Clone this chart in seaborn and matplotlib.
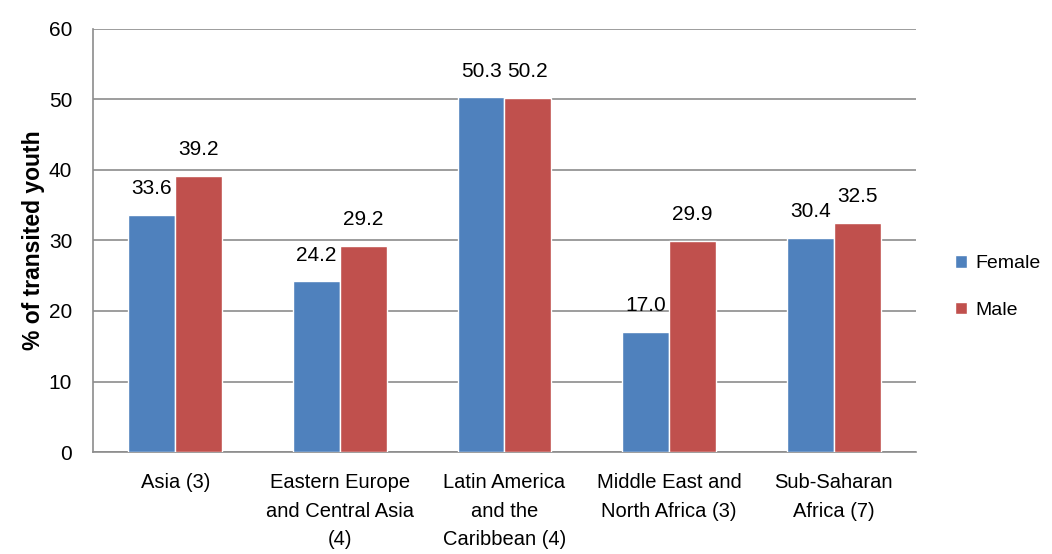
import pandas as pd
import matplotlib.pyplot as plt
import seaborn as sns

# Donnees
regions = ['Asia (3)', 'Eastern Europe\nand Central Asia\n(4)', 'Latin America\nand the\nCaribbean (4)',
           'Middle East and\nNorth Africa (3)', 'Sub-Saharan\nAfrica (7)']
female = [33.6, 24.2, 50.3, 17.0, 30.4]
male = [39.2, 29.2, 50.2, 29.9, 32.5]
sexes = ['Female', 'Male']
colors = ['#4F81BD', '#C0504D']

df = pd.DataFrame({
    'region': regions * 2,
    'sexe': ['Female'] * len(regions) + ['Male'] * len(regions),
    'valeur': female + male,
})

sns.set_style('white')
plt.rcParams['font.family'] = ['Liberation Sans', 'DejaVu Sans']
plt.rcParams['text.color'] = 'black'
plt.rcParams['axes.labelcolor'] = 'black'
plt.rcParams['xtick.color'] = 'black'
plt.rcParams['ytick.color'] = 'black'

fig = plt.figure(figsize=(10.52, 5.54), dpi=100)
ax = fig.add_axes([0.0884, 0.184, 0.7823, 0.764])

sns.barplot(data=df, x='region', y='valeur', hue='sexe', hue_order=sexes,
            palette=colors, width=0.57, gap=0, edgecolor='white', linewidth=1,
            saturation=1, ax=ax, zorder=3)

for cont in ax.containers:
    ax.bar_label(cont, fmt='%.1f', padding=12, fontsize=15)

ax.set_ylim(0, 60)
ax.set_xlim(-0.5, len(regions) - 0.5)
ax.set_yticks(range(0, 61, 10))
ax.yaxis.grid(True, color='#8c8c8c', linewidth=1.2, zorder=0)
ax.xaxis.grid(False)
ax.set_axisbelow(True)

ax.set_xticks(range(len(regions)))
ax.set_xticklabels(regions, fontsize=14.5, linespacing=1.65)
ax.set_xticks([i - 0.5 for i in range(len(regions) + 1)], minor=True)
ax.tick_params(axis='x', which='major', length=0, pad=15)
ax.tick_params(axis='x', which='minor', length=7, width=1.2, color='#8c8c8c', direction='out')
ax.tick_params(axis='y', length=7, width=1.2, color='#8c8c8c', direction='out', labelsize=15, pad=8,
               labelcolor='black')

for s in ['top', 'right']:
    ax.spines[s].set_visible(False)
for s in ['left', 'bottom']:
    ax.spines[s].set_color('#8c8c8c')
    ax.spines[s].set_linewidth(1.2)

ax.set_xlabel('')
ax.set_ylabel('% of transited youth', fontsize=16.5, fontweight='bold', labelpad=3)

handles, labels = ax.get_legend_handles_labels()
ax.legend(handles, labels, loc='center left', bbox_to_anchor=(1.026, 0.39), frameon=False,
          fontsize=14, handlelength=0.62, handleheight=0.62, handletextpad=0.45, labelspacing=1.5)

fig.savefig('out.png', dpi=100)
